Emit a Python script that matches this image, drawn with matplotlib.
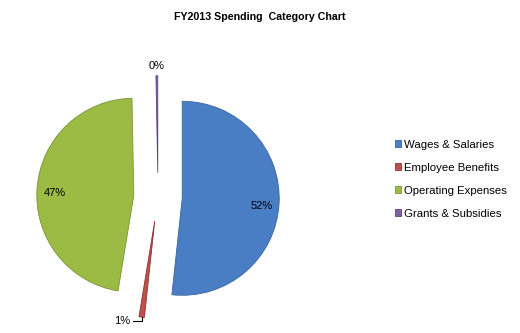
import numpy as np
import matplotlib.pyplot as plt

plt.rcParams['font.family'] = ['Liberation Sans', 'DejaVu Sans']

categories = ['Wages & Salaries', 'Employee Benefits', 'Operating Expenses', 'Grants & Subsidies']
values = [51.7, 0.9, 47.1, 0.3]
pct_labels = ['52%', '1%', '47%', '0%']
colors = ['#4a7ec4', '#c0504d', '#9bbb45', '#7d5fa6']
edges = ['#3a659e', '#8f3230', '#7a9436', '#5a4480']

fig = plt.figure(figsize=(5.2, 3.33), dpi=100)
ax = fig.add_axes([0, 0, 1, 1])

r_px = 97.0
cx, cy = 158.0, 333 - 197.0
W, H = 520.0, 333.0

wedges, _ = ax.pie(values, colors=colors, startangle=90, counterclock=False,
                   explode=[0.25] * 4, radius=1.0,
                   wedgeprops=dict(linewidth=0.6))
for w, ec in zip(wedges, edges):
    w.set_edgecolor(ec)

ax.set_aspect('equal')
ax.set_xlim(-cx / r_px, (W - cx) / r_px)
ax.set_ylim(-cy / r_px, (H - cy) / r_px)
ax.axis('off')

# percent labels
for w, lab, v in zip(wedges, pct_labels, values):
    ang = np.deg2rad((w.theta1 + w.theta2) / 2)
    ccx, ccy = w.center
    if v > 5:
        x = ccx + 0.82 * np.cos(ang)
        y = ccy + 0.82 * np.sin(ang) - 0.04
        ax.text(x, y, lab, ha='center', va='center', fontsize=8)
    elif lab == '0%':
        x = ccx + 1.1 * np.cos(ang)
        y = ccy + 1.1 * np.sin(ang)
        ax.text(x, y, lab, ha='center', va='center', fontsize=8)
    else:
        tx = ccx + 1.0 * np.cos(ang)
        ty = ccy + 1.0 * np.sin(ang)
        ax.annotate(lab, xy=(tx, ty), xytext=(tx - 0.12, ty - 0.04),
                    ha='right', va='center', fontsize=8,
                    arrowprops=dict(arrowstyle='-', color='black', lw=0.8,
                                    connectionstyle='angle,angleA=0,angleB=90,rad=0',
                                    shrinkA=0, shrinkB=0))

fig.text(0.5, 1 - 17 / H, 'FY2013 Spending  Category Chart', ha='center', va='center',
         fontsize=7.7, fontweight='bold')

leg = fig.legend(wedges, categories, loc='upper left', bbox_to_anchor=(390 / W, 1 - 135 / H),
                 frameon=False, fontsize=8.2, handlelength=0.6, handleheight=0.6,
                 handletextpad=0.25, labelspacing=1.15, borderaxespad=0)

fig.savefig('out.png', dpi=100)
